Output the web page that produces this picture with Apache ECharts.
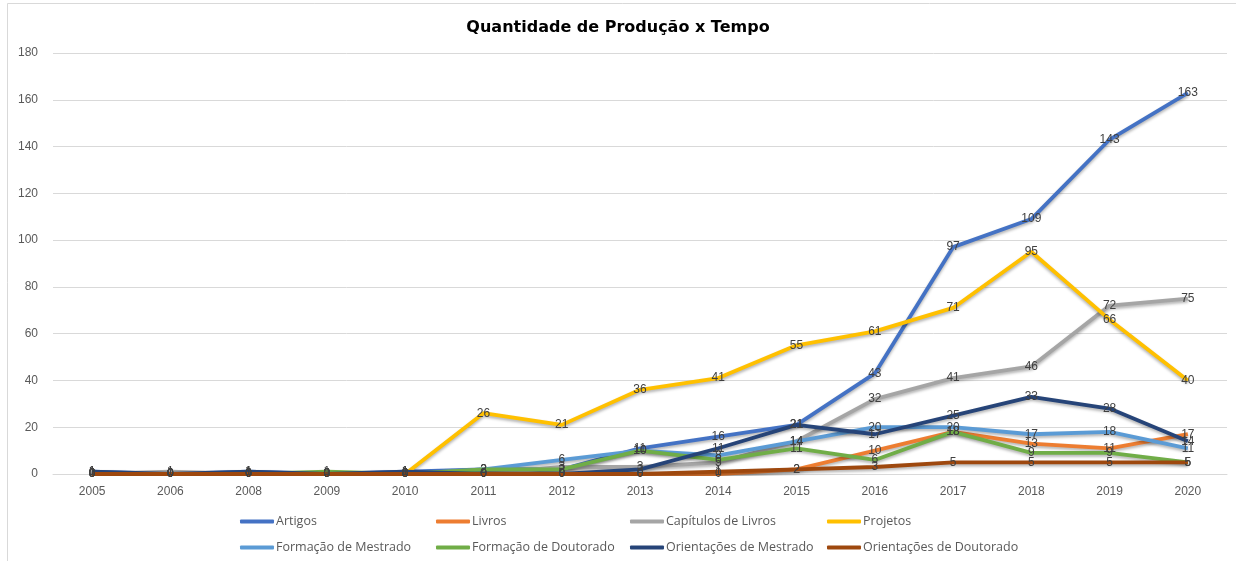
<!DOCTYPE html>
<html>
<head>
<meta charset="utf-8">
<script src="https://cdn.jsdelivr.net/npm/echarts@6/dist/echarts.min.js"></script>
<style>
  html, body { margin: 0; padding: 0; background: #fff; }
  #chart { width: 1236px; height: 561px; }
</style>
</head>
<body>
<div id="chart"></div>
<script>
var anos = ['2005', '2006', '2008', '2009', '2010', '2011', '2012', '2013', '2014', '2015', '2016', '2017', '2018', '2019', '2020']

var artigos       = [1, 0, 1, 0, 1, 2, 2, 11, 16, 21, 43, 97, 109, 143, 163]
var livros        = [0, 0, 0, 0, 0, 0, 0, 0, 0, 2, 10, 18, 13, 11, 17]
var capitulos     = [0, 1, 0, 0, 0, 0, 3, 3, 5, 14, 32, 41, 46, 72, 75]
var projetos      = [0, 0, 0, 0, 0, 26, 21, 36, 41, 55, 61, 71, 95, 66, 40]
var formMestrado  = [0, 0, 0, 0, 0, 2, 6, 10, 8, 14, 20, 20, 17, 18, 11]
var formDoutorado = [0, 0, 0, 1, 0, 2, 2, 10, 6, 11, 6, 18, 9, 9, 5]
var oriMestrado   = [1, 0, 1, 0, 1, 0, 0, 2, 11, 21, 17, 25, 33, 28, 14]
var oriDoutorado  = [0, 0, 0, 0, 0, 0, 0, 0, 1, 2, 3, 5, 5, 5, 5]

var nomes = ['Artigos', 'Livros', 'Capítulos de Livros', 'Projetos',
             'Formação de Mestrado', 'Formação de Doutorado', 'Orientações de Mestrado', 'Orientações de Doutorado']
var valores = [artigos, livros, capitulos, projetos, formMestrado, formDoutorado, oriMestrado, oriDoutorado]
var cores = ['#4472C4', '#ED7D31', '#A5A5A5', '#FFC000', '#5B9BD5', '#70AD47', '#264478', '#9E480E']

var chart = echarts.init(document.getElementById('chart'))

var series = nomes.map(function (nome, i) {
    return {
        name: nome,
        type: 'line',
        data: valores[i],
        symbol: 'circle',
        symbolSize: 0.1,
        showSymbol: true,
        color: cores[i],
        lineStyle: {
            width: 3.8,
            color: cores[i],
            shadowColor: 'rgba(0,0,0,0.3)',
            shadowBlur: 3,
            shadowOffsetY: 2
        },
        label: {
            show: true,
            position: 'inside',
            color: '#404040',
            fontSize: 12,
            fontFamily: 'Liberation Sans, Arial, sans-serif'
        },
        emphasis: { disabled: true },
        animation: false
    }
})

// legend laid out as a 4 x 2 grid like the original
var colX = [235, 431, 625, 822]
var rowY = [510, 536]
var legends = nomes.map(function (nome, i) {
    return {
        data: [nome],
        left: colX[i % 4],
        top: rowY[Math.floor(i / 4)],
        icon: 'roundRect',
        itemWidth: 34,
        itemHeight: 4,
        itemGap: 0,
        selectedMode: false,
        textStyle: { color: '#595959', fontSize: 12.5, fontFamily: 'Open Sans, sans-serif', padding: [0, 0, 0, -3] }
    }
})

var option = {
    backgroundColor: '#fff',
    animation: false,
    title: {
        text: 'Quantidade de Produção x Tempo',
        left: 'center',
        top: 15,
        textStyle: { color: '#000', fontSize: 16, fontWeight: 'bold', fontFamily: 'DejaVu Sans, sans-serif' }
    },
    graphic: [{
        type: 'rect',
        shape: { x: 7.5, y: 3.5, width: 1300, height: 700 },
        style: { fill: 'none', stroke: '#D9D9D9', lineWidth: 1 },
        silent: true
    }],
    legend: legends,
    grid: { left: 53, right: 9, top: 53, bottom: 87 },
    xAxis: {
        type: 'category',
        data: anos,
        boundaryGap: true,
        axisLine: { lineStyle: { color: '#D9D9D9' } },
        axisTick: { show: false },
        axisLabel: { color: '#595959', fontSize: 12, margin: 12, fontFamily: 'Liberation Sans, Arial, sans-serif' }
    },
    yAxis: {
        type: 'value',
        min: 0,
        max: 180,
        interval: 20,
        axisLine: { show: false },
        axisTick: { show: false },
        axisLabel: { color: '#595959', fontSize: 12, margin: 15, fontFamily: 'Liberation Sans, Arial, sans-serif' },
        splitLine: { lineStyle: { color: '#D9D9D9' } }
    },
    series: series
}

chart.setOption(option)
</script>
</body>
</html>
